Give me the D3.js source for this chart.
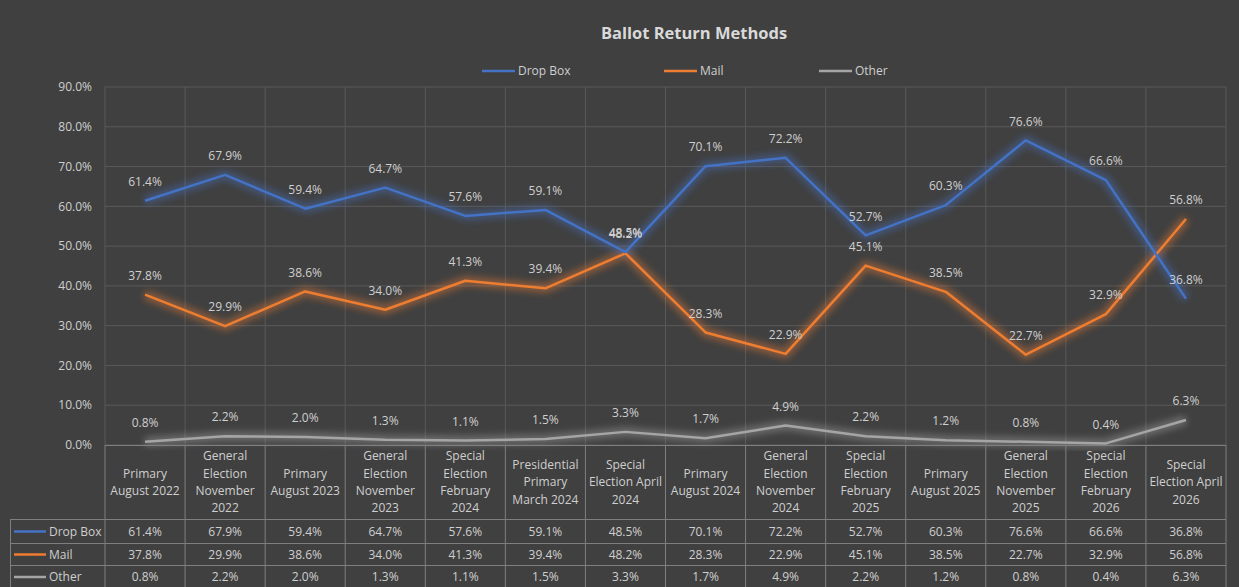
<!DOCTYPE html>
<html>
<head>
<meta charset="utf-8">
<script src="https://cdn.jsdelivr.net/npm/d3@7"></script>
<style>
  html, body { margin: 0; padding: 0; background: #404040; }
  svg { display: block; font-family: "Open Sans", sans-serif; }
</style>
</head>
<body>
<svg id="chart" width="1239" height="587"></svg>
<script>
// categories (line breaks as in the table header)
const categories = [
  'Primary\nAugust 2022',
  'General\nElection\nNovember\n2022',
  'Primary\nAugust 2023',
  'General\nElection\nNovember\n2023',
  'Special\nElection\nFebruary\n2024',
  'Presidential\nPrimary\nMarch 2024',
  'Special\nElection April\n2024',
  'Primary\nAugust 2024',
  'General\nElection\nNovember\n2024',
  'Special\nElection\nFebruary\n2025',
  'Primary\nAugust 2025',
  'General\nElection\nNovember\n2025',
  'Special\nElection\nFebruary\n2026',
  'Special\nElection April\n2026'
];
const dropBox = [0.614, 0.679, 0.594, 0.647, 0.576, 0.591, 0.485, 0.701, 0.722, 0.527, 0.603, 0.766, 0.666, 0.368];
const mail = [0.378, 0.299, 0.386, 0.340, 0.413, 0.394, 0.482, 0.283, 0.229, 0.451, 0.385, 0.227, 0.329, 0.568];
const other = [0.008, 0.022, 0.020, 0.013, 0.011, 0.015, 0.033, 0.017, 0.049, 0.022, 0.012, 0.008, 0.004, 0.063];
const yTicks = [0, 0.1, 0.2, 0.3, 0.4, 0.5, 0.6, 0.7, 0.8, 0.9];

const series = [
  { name: 'Drop Box', values: dropBox, color: '#4472c4' },
  { name: 'Mail', values: mail, color: '#ed7d31' },
  { name: 'Other', values: other, color: '#a5a5a5' }
];

const plot = { left: 105, right: 1226, top: 87, bottom: 445 };
const headerBottom = 519;
const rowLines = [519, 543, 565, 588];
const textColor = '#cfcfcf';
const gridColor = '#595959';
const tableColor = '#7f7f7f';
const fmt = d3.format('.1%');

const svg = d3.select('#chart');

const x = d3.scaleBand().domain(categories).range([plot.left, plot.right]);
const y = d3.scaleLinear().domain([0, 0.9]).range([plot.bottom, plot.top]);
const cx = c => x(c) + x.bandwidth() / 2;

// glow filter
const defs = svg.append('defs');
defs.append('filter').attr('id', 'glow')
  .attr('x', '-10%').attr('y', '-30%').attr('width', '120%').attr('height', '160%')
  .append('feGaussianBlur').attr('stdDeviation', 3.5);

// title
svg.append('text')
  .attr('x', 694).attr('y', 39)
  .attr('text-anchor', 'middle')
  .attr('fill', '#d9d9d9')
  .style('font-size', '16.5px').style('font-weight', 'bold')
  .text('Ballot Return Methods');

// legend
const legendX = [482, 664, 819];
const legend = svg.append('g').selectAll('g').data(series).enter().append('g')
  .attr('transform', (d, i) => 'translate(' + legendX[i] + ',71)');
legend.append('line').attr('x1', 0).attr('x2', 33)
  .attr('stroke', d => d.color).attr('stroke-width', 2.5);
legend.append('text').attr('x', 36).attr('dy', '0.35em')
  .attr('fill', textColor).style('font-size', '12px')
  .text(d => d.name);

// horizontal grid + y labels
svg.append('g').selectAll('line').data(yTicks).enter().append('line')
  .attr('x1', plot.left).attr('x2', plot.right)
  .attr('y1', d => y(d)).attr('y2', d => y(d))
  .attr('stroke', gridColor).attr('stroke-width', 1);

svg.append('g').selectAll('text').data(yTicks).enter().append('text')
  .attr('x', 92).attr('y', d => y(d)).attr('dy', '0.35em')
  .attr('text-anchor', 'end').attr('fill', textColor)
  .style('font-size', '12px')
  .text(d => fmt(d));

// vertical grid
const bounds = categories.map(c => x(c)).concat([plot.right]);
svg.append('g').selectAll('line').data(bounds).enter().append('line')
  .attr('x1', d => d).attr('x2', d => d)
  .attr('y1', plot.top).attr('y2', plot.bottom)
  .attr('stroke', gridColor).attr('stroke-width', 1);

// lines
const line = d3.line().x((d, i) => cx(categories[i])).y(d => y(d));
const lines = svg.append('g');
series.slice().reverse().forEach(s => {
  lines.append('path').datum(s.values)
    .attr('d', line).attr('fill', 'none')
    .attr('stroke', s.color).attr('stroke-width', 9)
    .attr('stroke-opacity', 0.45).attr('stroke-linejoin', 'round')
    .attr('filter', 'url(#glow)');
});
series.slice().reverse().forEach(s => {
  lines.append('path').datum(s.values)
    .attr('d', line).attr('fill', 'none')
    .attr('stroke', s.color).attr('stroke-width', 2.5)
    .attr('stroke-linejoin', 'round');
});

// data labels
series.forEach(s => {
  svg.append('g').selectAll('text').data(s.values).enter().append('text')
    .attr('x', (d, i) => cx(categories[i]))
    .attr('y', d => y(d) - 19).attr('dy', '0.35em')
    .attr('text-anchor', 'middle').attr('fill', textColor)
    .style('font-size', '12px')
    .text(d => fmt(d));
});

// data table
const table = svg.append('g');
table.append('line')
  .attr('x1', plot.left).attr('x2', plot.right)
  .attr('y1', plot.bottom + 0.5).attr('y2', plot.bottom + 0.5)
  .attr('stroke', tableColor);
rowLines.forEach(r => {
  table.append('line')
    .attr('x1', 10).attr('x2', plot.right)
    .attr('y1', r + 0.5).attr('y2', r + 0.5)
    .attr('stroke', tableColor);
});
bounds.forEach(b => {
  table.append('line')
    .attr('x1', b).attr('x2', b)
    .attr('y1', plot.bottom).attr('y2', 587)
    .attr('stroke', tableColor);
});
table.append('line')
  .attr('x1', 10.5).attr('x2', 10.5)
  .attr('y1', headerBottom).attr('y2', 587)
  .attr('stroke', tableColor);

// header text
const headerMid = (plot.bottom + headerBottom) / 2;
categories.forEach(c => {
  const parts = c.split('\n');
  const t = table.append('text')
    .attr('text-anchor', 'middle').attr('fill', textColor)
    .style('font-size', '12px');
  parts.forEach((p, j) => {
    t.append('tspan')
      .attr('x', cx(c))
      .attr('y', headerMid + (j - (parts.length - 1) / 2) * 17.3)
      .attr('dy', '0.35em')
      .text(p);
  });
});

// rows
series.forEach((s, k) => {
  const mid = (rowLines[k] + rowLines[k + 1]) / 2 + 0.5;
  table.append('line')
    .attr('x1', 14).attr('x2', 46).attr('y1', mid).attr('y2', mid)
    .attr('stroke', s.color).attr('stroke-width', 2.5);
  table.append('text')
    .attr('x', 49).attr('y', mid).attr('dy', '0.35em')
    .attr('fill', textColor).style('font-size', '12px')
    .text(s.name);
  s.values.forEach((v, i) => {
    table.append('text')
      .attr('x', cx(categories[i])).attr('y', mid).attr('dy', '0.35em')
      .attr('text-anchor', 'middle').attr('fill', textColor)
      .style('font-size', '12px')
      .text(fmt(v));
  });
});
</script>
</body>
</html>
